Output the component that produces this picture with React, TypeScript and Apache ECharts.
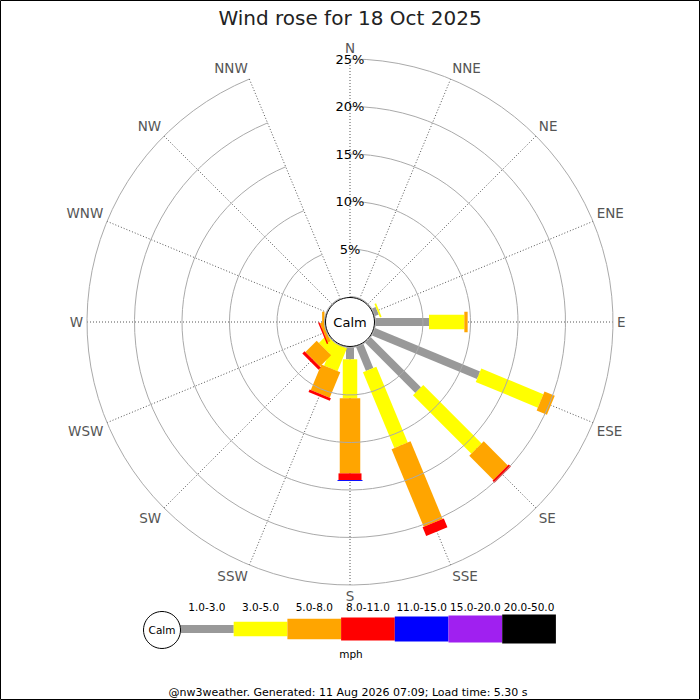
import React, { useEffect, useRef } from "react";
import * as echarts from "echarts";

const directions = ["N", "NNE", "NE", "ENE", "E", "ESE", "SE", "SSE", "S", "SSW", "SW", "WSW", "W", "WNW", "NW", "NNW"];
const bandLabels = ["1.0-3.0", "3.0-5.0", "5.0-8.0", "8.0-11.0", "11.0-15.0", "15.0-20.0", "20.0-50.0"];
const bandColors = ["#999999", "#ffff00", "#ffa500", "#ff0000", "#0000ff", "#a020f0", "#000000"];
const bandWidths = [8, 14.5, 20.5, 23, 25, 27, 29];

// percentage of time per direction, per speed band (mph)
const band1to3 = [0, 0, 0, 0.42, 5.63, 11.96, 7.46, 2.72, 1.24, 0, 0, 0, 0, 0, 0, 0];
const band3to5 = [0, 0, 0, 0.18, 3.72, 7.07, 8.69, 8.64, 4.11, 2.6, 1.2, 0, 0, 0, 0, 0];
const band5to8 = [0, 0, 0, 0, 0.35, 1.17, 3.59, 8.84, 7.9, 2.9, 1.67, 0.3, 0.25, 0, 0, 0];
const band8to11 = [0, 0, 0, 0, 0, 0, 0.31, 1.0, 0.7, 0.3, 0.33, 0.15, 0, 0, 0, 0];
const band11to15 = [0, 0, 0, 0, 0, 0, 0, 0, 0.1, 0, 0, 0, 0, 0, 0, 0];
const band15to20 = [0, 0, 0, 0, 0, 0, 0, 0, 0, 0, 0, 0, 0, 0, 0, 0];
const band20to50 = [0, 0, 0, 0, 0, 0, 0, 0, 0, 0, 0, 0, 0, 0, 0, 0];
const bands = [band1to3, band3to5, band5to8, band8to11, band11to15, band15to20, band20to50];

const radiusTicks = [0, 5, 10, 15, 20, 25];

const titleText = "Wind rose for 18 Oct 2025";
const unitText = "mph";
const footerText = "@nw3weather. Generated: 11 Aug 2026 07:09; Load time: 5.30 s";

const FONT = "DejaVu Sans";

export default function App() {
  const ref = useRef<HTMLDivElement>(null);

  useEffect(() => {
    document.body.style.margin = "0";
    document.body.style.overflow = "hidden";
    if (!ref.current) return;
    const chart = echarts.init(ref.current, undefined, { renderer: "svg" });

    // stacked segments: [dirIndex, bandIndex, start, end]
    const cumulative = directions.map(() => 0);
    const series: any[] = bands.map((vals, b) => {
      const data: number[][] = [];
      vals.forEach((v, d) => {
        if (v > 0) {
          data.push([d, b, cumulative[d], cumulative[d] + v]);
          cumulative[d] += v;
        }
      });
      return {
        type: "custom",
        name: bandLabels[b],
        coordinateSystem: "polar",
        encode: { angle: 0, radius: 3 },
        data,
        renderItem: (params: any, api: any) => {
          const d = api.value(0);
          const bi = api.value(1);
          const s = api.value(2);
          const e = api.value(3);
          const p0 = api.coord([s, d]);
          const p1 = api.coord([e, d]);
          const dx = p1[0] - p0[0];
          const dy = p1[1] - p0[1];
          const len = Math.hypot(dx, dy) || 1;
          const hw = bandWidths[bi] / 2;
          const nx = (-dy / len) * hw;
          const ny = (dx / len) * hw;
          return {
            type: "polygon",
            shape: {
              points: [
                [p0[0] + nx, p0[1] + ny],
                [p1[0] + nx, p1[1] + ny],
                [p1[0] - nx, p1[1] - ny],
                [p0[0] - nx, p0[1] - ny],
              ],
            },
            style: { fill: bandColors[bi] },
          };
        },
      };
    });

    const legendX0 = 180;
    const segW = 53.7;
    const legendY = 629;
    const legendGraphics: any[] = [];
    bandLabels.forEach((lab, i) => {
      const h = bandWidths[i];
      legendGraphics.push({
        type: "rect",
        shape: { x: legendX0 + i * segW, y: legendY - h / 2, width: segW, height: h },
        style: { fill: bandColors[i] },
      });
      legendGraphics.push({
        type: "text",
        x: legendX0 + i * segW + segW / 2,
        y: 607,
        style: { text: lab, fill: "#000", fontSize: 10.5, fontFamily: FONT, align: "center", verticalAlign: "middle" },
      });
    });

    chart.setOption({
      animation: false,
      textStyle: { fontFamily: FONT },
      title: {
        text: titleText,
        left: "center",
        top: 3,
        textStyle: { fontSize: 20, fontWeight: "normal", color: "#222", fontFamily: FONT },
      },
      polar: { center: [350, 322], radius: [25.5, 263] },
      angleAxis: {
        type: "category",
        data: directions,
        boundaryGap: false,
        startAngle: 90,
        clockwise: true,
        axisLine: { show: false },
        axisTick: { show: false },
        axisLabel: {
          show: true,
          color: "#555",
          fontSize: 13.5,
          fontFamily: FONT,
          margin: 4,
          align: "center",
          verticalAlign: "middle",
        },
        splitLine: { show: true, lineStyle: { color: "#555", width: 1, type: [1, 2] } },
      },
      radiusAxis: {
        type: "value",
        min: radiusTicks[0],
        max: radiusTicks[radiusTicks.length - 1],
        interval: 5,
        axisLine: { show: false },
        axisTick: { show: false },
        axisLabel: {
          show: true,
          color: "#000",
          fontSize: 13,
          fontFamily: FONT,
          margin: 0,
          align: "center",
          verticalAlign: "middle",
          formatter: (v: number) => (v === 0 ? "" : v + "%"),
        },
        splitLine: { show: true, lineStyle: { color: "#aaa", width: 1 } },
        z: 20,
      },
      series,
      graphic: [
        {
          type: "rect",
          z: 200,
          shape: { x: 0.5, y: 0.5, width: 699, height: 699 },
          style: { fill: "none", stroke: "#000", lineWidth: 1 },
        },
        {
          type: "circle",
          z: 100,
          shape: { cx: 350, cy: 322, r: 24.5 },
          style: { fill: "#fff", stroke: "#000", lineWidth: 1 },
        },
        {
          type: "text",
          z: 101,
          x: 350,
          y: 322,
          style: { text: "Calm", fill: "#000", fontSize: 13, fontFamily: FONT, align: "center", verticalAlign: "middle" },
        },
        ...legendGraphics,
        {
          type: "circle",
          z: 100,
          shape: { cx: 162, cy: 630, r: 18.5 },
          style: { fill: "#fff", stroke: "#000", lineWidth: 1 },
        },
        {
          type: "text",
          z: 101,
          x: 162,
          y: 630,
          style: { text: "Calm", fill: "#000", fontSize: 10.5, fontFamily: FONT, align: "center", verticalAlign: "middle" },
        },
        {
          type: "text",
          x: 351,
          y: 654,
          style: { text: unitText, fill: "#000", fontSize: 10.5, fontFamily: FONT, align: "center", verticalAlign: "middle" },
        },
        {
          type: "text",
          x: 348,
          y: 692,
          style: { text: footerText, fill: "#000", fontSize: 11, fontFamily: FONT, align: "center", verticalAlign: "middle" },
        },
      ],
    });

    return () => chart.dispose();
  }, []);

  return <div ref={ref} style={{ width: 700, height: 700 }} />;
}
